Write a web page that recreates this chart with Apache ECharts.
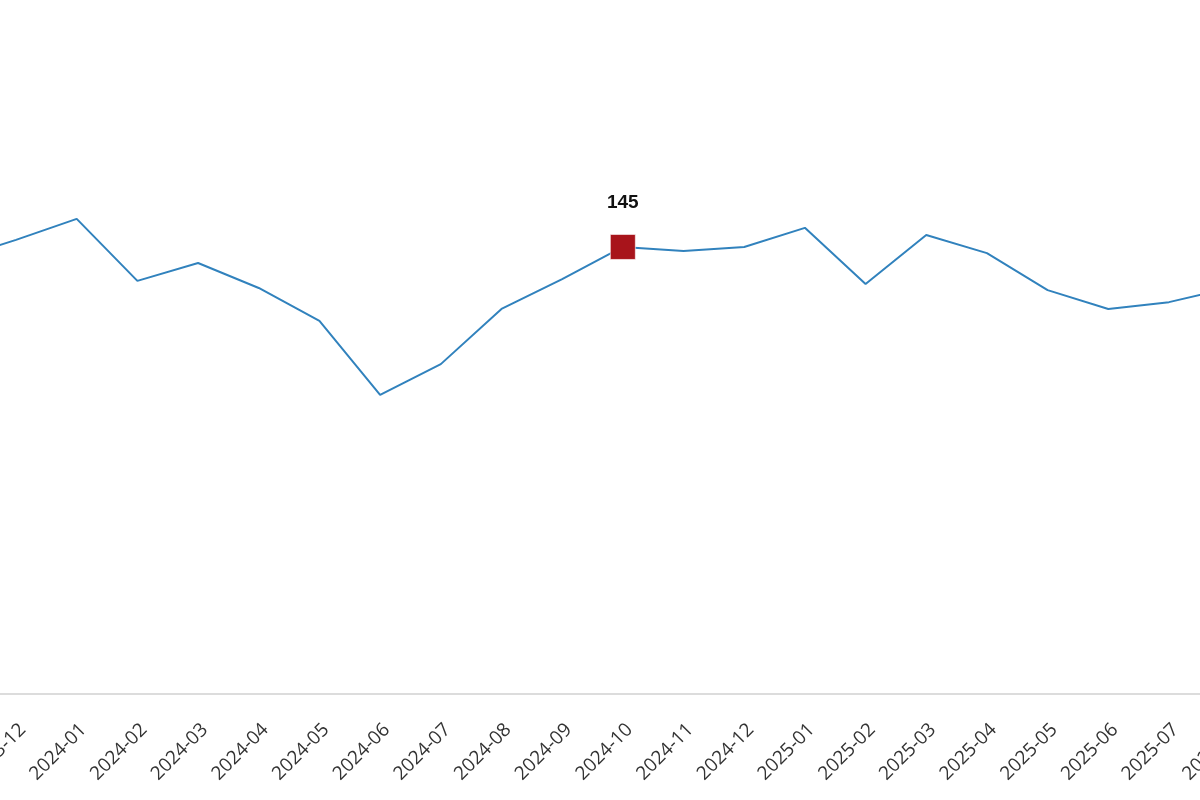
<!DOCTYPE html>
<html>
<head>
<meta charset="utf-8">
<script src="https://cdn.jsdelivr.net/npm/echarts@6/dist/echarts.min.js"></script>
<style>html,body{margin:0;padding:0;background:#fff;overflow:hidden;width:1200px;height:800px;position:relative}#c{position:absolute;left:-74.7px;top:0;width:1334.7px;height:800px}</style>
</head>
<body>
<div id="c"></div>
<script>
const categories = ['2023-11','2023-12','2024-01','2024-02','2024-03','2024-04','2024-05','2024-06','2024-07','2024-08','2024-09','2024-10','2024-11','2024-12','2025-01','2025-02','2025-03','2025-04','2025-05','2025-06','2025-07','2025-08'];
const values = [141, 147.3, 154.1, 134.0, 139.8, 131.7, 121.0, 97.0, 107.0, 124.9, 134.6, 145, 143.7, 145, 151.2, 133.0, 148.9, 143.0, 131.0, 124.9, 127.1, 131.7];
const highlightIndex = 11;

const seriesData = values.map((v, i) => i === highlightIndex ? {
  value: v,
  symbol: 'rect',
  symbolSize: 25,
  itemStyle: { color: '#a8141b', borderColor: 'rgba(255,255,255,0.6)', borderWidth: 1 },
  label: { show: true, position: 'top', distance: 22, fontSize: 19, fontWeight: 'bold', color: '#111', fontFamily: 'Liberation Sans, Arial, sans-serif' }
} : v);

const chart = echarts.init(document.getElementById('c'), null, { renderer: 'canvas' });
chart.setOption({
  animation: false,
  grid: { left: 0, right: 0, top: 77.4, bottom: 106, containLabel: false, outerBoundsMode: 'none' },
  xAxis: {
    type: 'category',
    data: categories,
    boundaryGap: true,
    axisLine: { show: true, lineStyle: { color: '#dcdcdc', width: 2 } },
    axisTick: { show: false },
    axisLabel: { interval: 0, rotate: 45, fontSize: 19, color: '#333', fontFamily: 'Open Sans, sans-serif', margin: 26, verticalAlign: 'top' }
  },
  yAxis: {
    type: 'value', min: 0, max: 200, show: false,
    splitLine: { show: false }
  },
  series: [{
    type: 'line',
    data: seriesData,
    symbol: 'none',
    lineStyle: { color: '#3182bd', width: 2 },
    itemStyle: { color: '#3182bd' }
  }]
});
</script>
</body>
</html>
